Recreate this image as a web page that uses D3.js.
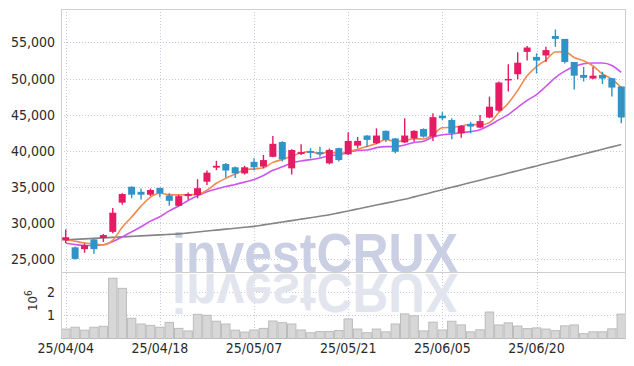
<!DOCTYPE html>
<html><head><meta charset="utf-8">
<script src="https://cdn.jsdelivr.net/npm/d3@7"></script>
<style>
html,body{margin:0;padding:0;background:#fff;}
svg{display:block;}
</style></head><body>
<svg id="c" width="634" height="366"></svg>
<script>
// ---------- data ----------
const dates = ["25/04/04","25/04/07","25/04/08","25/04/09","25/04/10","25/04/11","25/04/14","25/04/15","25/04/16","25/04/17",
"25/04/18","25/04/21","25/04/22","25/04/23","25/04/24","25/04/25","25/04/28","25/04/29","25/04/30","25/05/02",
"25/05/07","25/05/08","25/05/09","25/05/12","25/05/13","25/05/14","25/05/15","25/05/16","25/05/19","25/05/20",
"25/05/21","25/05/22","25/05/23","25/05/26","25/05/27","25/05/28","25/05/29","25/05/30","25/06/02","25/06/04",
"25/06/05","25/06/09","25/06/10","25/06/11","25/06/12","25/06/13","25/06/16","25/06/17","25/06/18","25/06/19",
"25/06/20","25/06/23","25/06/24","25/06/25","25/06/26","25/06/27","25/06/30","25/07/01","25/07/02","25/07/03"];
const opens  = [27550,26600,26350,27700,27900,28750,32800,35000,34300,33900,
34850,33800,32350,33700,33850,35700,37650,38150,37700,36850,
38450,37800,39150,41200,37550,39550,39950,39800,38250,40350,
39500,40700,42100,41050,42750,41700,41150,41700,43000,41950,
44850,44250,42400,43700,43200,44600,45550,49750,50600,53700,
53000,53200,55900,55500,52300,50500,50000,50500,50050,48900];
const highs  = [29100,26700,27150,27800,28450,32050,34100,35050,34750,34750,
34850,34100,33850,34200,36050,37250,38600,38300,37800,37900,
38950,39400,42050,41300,40200,40900,40350,40550,40300,40400,
42550,41900,42150,43100,42800,41750,44500,42850,43100,45200,
45350,44500,43550,44000,44950,47500,49600,52000,53650,54500,
53500,54400,56800,55500,52300,51600,51600,50950,50050,48900];
const lows   = [27200,24900,25850,25700,27350,28550,32500,33400,33250,33700,
33550,32350,32300,33200,33400,35250,37300,36300,36200,36700,
37300,37550,39100,38500,36700,39400,38950,39150,38100,38500,
39400,40350,40550,40900,41200,39650,41050,41250,41800,41350,
44250,41600,41800,42400,43100,44500,45400,48200,49900,52500,
50700,52300,54400,52100,48500,49600,49900,49250,47500,43800];
const closes = [28000,25000,26900,26350,28300,31400,34000,33900,33900,34550,
34100,33050,33700,34000,34800,36950,37900,37250,36850,37700,
37700,38700,40950,38800,40100,39800,39700,39500,40100,38700,
41350,41350,41500,42100,41500,39850,42100,42750,41950,44650,
44500,42400,43450,43350,44100,46100,49450,49950,52200,54300,
52500,53950,55500,52300,50400,50100,50400,50000,48750,44600];
const volumes = [0.41,0.49,0.36,0.49,0.53,2.62,2.18,0.88,0.63,0.57,
0.49,0.70,0.44,0.33,1.05,1.01,0.75,0.63,0.36,0.28,
0.37,0.44,0.76,0.69,0.63,0.37,0.25,0.30,0.30,0.35,
0.85,0.41,0.25,0.41,0.29,0.63,1.07,0.99,0.33,0.71,
0.37,0.75,0.59,0.29,0.38,1.15,0.59,0.68,0.54,0.43,
0.46,0.41,0.34,0.55,0.59,0.21,0.29,0.29,0.42,1.06].map(v => v * 1e6);
const ma5  = [27700,27450,27200,27100,26950,27590,29390,30800,32310,33560,
34090,33910,33870,33890,33940,34510,35480,36180,36750,37330,
37480,37640,38380,38770,39250,39670,39870,39580,39840,39560,
39870,40200,40600,41000,41550,41260,41400,41650,41620,42250,
43170,43240,43390,43670,43570,43890,45290,46580,48360,50390,
51670,52570,53690,53710,52930,52460,51740,50630,49920,48760];
const ma10 = [27170,27000,26850,26850,26950,27400,28050,28750,29450,30230,
30840,31650,32330,33100,33750,34300,34690,35030,35320,35640,
36000,36560,37280,37760,38290,38580,38760,38980,39310,39410,
39770,40040,40090,40420,40560,40560,40800,41130,41310,41900,
42220,42320,42520,42640,42910,43530,44270,44990,46010,46980,
47780,48930,50140,51030,51660,52060,52160,52160,51820,50850];
const ma60 = [27630,27700,27770,27840,27910,27980,28050,28120,28190,28260,
28330,28400,28470,28600,28730,28860,28990,29120,29250,29380,
29510,29710,29910,30110,30310,30510,30710,30910,31110,31380,
31650,31920,32190,32460,32730,33000,33270,33600,33930,34260,
34590,34920,35250,35580,35910,36240,36570,36900,37230,37560,
37890,38220,38550,38880,39210,39540,39870,40200,40530,40860];
const priceTicks = [25000,30000,35000,40000,45000,50000,55000];
const volumeTicks = [1e6, 2e6];
const dateTicks = ["25/04/04","25/04/18","25/05/07","25/05/21","25/06/05","25/06/20"];

// ---------- layout ----------
const L = 61, R = 626, T = 9, SEP = 272, VB = 338.5;
const svg = d3.select("#c");
const font = "'Liberation Sans Narrow','Arial Narrow','DejaVu Sans Condensed',sans-serif";

const x = d3.scaleBand().domain(dates).range([L, R]).padding(0);
const cx = d => x(d) + x.bandwidth() / 2;
const y = d3.scaleLinear().domain([23182, 59644]).range([SEP, T]);
const yv = d3.scaleLinear().domain([0, 2.891e6]).range([VB, SEP]);

const gridColor = "#c5c9de";
// grids
const g = svg.append("g");
g.selectAll(".hp").data(priceTicks).join("line")
  .attr("x1", L).attr("x2", R).attr("y1", d => Math.round(y(d)) + 0.5).attr("y2", d => Math.round(y(d)) + 0.5)
  .attr("stroke", gridColor).attr("stroke-dasharray", "1,2");
g.selectAll(".hv").data(volumeTicks).join("line")
  .attr("x1", L).attr("x2", R).attr("y1", d => Math.round(yv(d)) + 0.5).attr("y2", d => Math.round(yv(d)) + 0.5)
  .attr("stroke", gridColor).attr("stroke-dasharray", "1,2");
g.selectAll(".vv").data(dateTicks).join("line")
  .attr("x1", d => Math.round(cx(d)) + 0.5).attr("x2", d => Math.round(cx(d)) + 0.5)
  .attr("y1", T).attr("y2", VB)
  .attr("stroke", gridColor).attr("stroke-dasharray", "1,2");

// watermark
const wm = svg.append("g");
wm.append("text").attr("x", 172).attr("y", SEP).text("investCRUX")
  .attr("font-family", "'Liberation Sans','Arial',sans-serif").attr("font-weight", "bold")
  .attr("font-size", 56).attr("textLength", 286).attr("lengthAdjust", "spacingAndGlyphs")
  .attr("fill", "#cacfe4");
wm.append("text").attr("x", 172).attr("y", SEP - 1).text("investCRUX")
  .attr("transform", `translate(0,${2*SEP + 1}) scale(1,-1)`)
  .attr("font-family", "'Liberation Sans','Arial',sans-serif").attr("font-weight", "bold")
  .attr("font-size", 56).attr("textLength", 286).attr("lengthAdjust", "spacingAndGlyphs")
  .attr("fill", "#e3e5ee");

// volume bars
svg.append("g").selectAll("rect").data(dates).join("rect")
  .attr("x", d => x(d) + 0.5).attr("width", x.bandwidth() - 1)
  .attr("y", (d, i) => yv(volumes[i])).attr("height", (d, i) => yv(0) - yv(volumes[i]))
  .attr("fill", "#d7d7d7").attr("stroke", "#bcbcbc").attr("stroke-width", 1);

// borders
const b = svg.append("g").attr("stroke", "#cfcfcf").attr("stroke-width", 1);
b.append("line").attr("x1", L).attr("x2", R).attr("y1", T + 0.5).attr("y2", T + 0.5);
b.append("line").attr("x1", L).attr("x2", R).attr("y1", SEP + 0.5).attr("y2", SEP + 0.5);
b.append("line").attr("x1", L + 0.5).attr("x2", L + 0.5).attr("y1", T).attr("y2", VB);
b.append("line").attr("x1", R - 0.5).attr("x2", R - 0.5).attr("y1", T).attr("y2", VB);

// MA lines
const line = arr => d3.line().x((d, i) => cx(dates[i])).y(d => y(d)).curve(d3.curveMonotoneX)(arr);
svg.append("path").attr("d", line(ma60)).attr("fill", "none").attr("stroke", "#858585").attr("stroke-width", 1.6);
svg.append("path").attr("d", line(ma10)).attr("fill", "none").attr("stroke", "#cc55ee").attr("stroke-width", 1.6);
svg.append("path").attr("d", line(ma5)).attr("fill", "none").attr("stroke", "#f08a4e").attr("stroke-width", 1.6);

// candles
const up = "#e31c63", down = "#2f93c8";
const cg = svg.append("g");
const bw = 7;
dates.forEach((d, i) => {
  const col = closes[i] >= opens[i] ? up : down;
  cg.append("line").attr("x1", cx(d)).attr("x2", cx(d)).attr("y1", y(highs[i])).attr("y2", y(lows[i]))
    .attr("stroke", col).attr("stroke-width", 1.4);
  const top = y(Math.max(opens[i], closes[i])), bot = y(Math.min(opens[i], closes[i]));
  cg.append("rect").attr("x", cx(d) - bw / 2).attr("width", bw)
    .attr("y", top).attr("height", Math.max(1.5, bot - top)).attr("fill", col);
});

// axes
const ya = d3.axisLeft(y).tickValues(priceTicks).tickSize(0).tickPadding(6).tickFormat(d3.format(","));
svg.append("g").attr("transform", `translate(${L},0)`).call(ya)
  .call(s => s.select(".domain").remove())
  .selectAll("text").attr("font-family", font).attr("font-size", 14).attr("fill", "#2a2a2a");
const va = d3.axisLeft(yv).tickValues(volumeTicks).tickSize(0).tickPadding(6).tickFormat(d => d / 1e6);
svg.append("g").attr("transform", `translate(${L},0)`).call(va)
  .call(s => s.select(".domain").remove())
  .selectAll("text").attr("font-family", font).attr("font-size", 14).attr("fill", "#2a2a2a");
const xa = d3.axisBottom(x).tickValues(dateTicks).tickSize(0).tickPadding(5);
svg.append("g").attr("transform", `translate(0,${VB})`).call(xa)
  .call(s => s.select(".domain").remove())
  .selectAll("text").attr("font-family", font).attr("font-size", 14).attr("fill", "#2a2a2a");

// 10^6 unit label
const ul = svg.append("text").attr("transform", "translate(37,311) rotate(-90)")
  .attr("font-family", font).attr("font-size", 13).attr("fill", "#333");
ul.append("tspan").text("10");
ul.append("tspan").attr("dy", -5).attr("font-size", 10).text("6");
</script>
</body></html>
